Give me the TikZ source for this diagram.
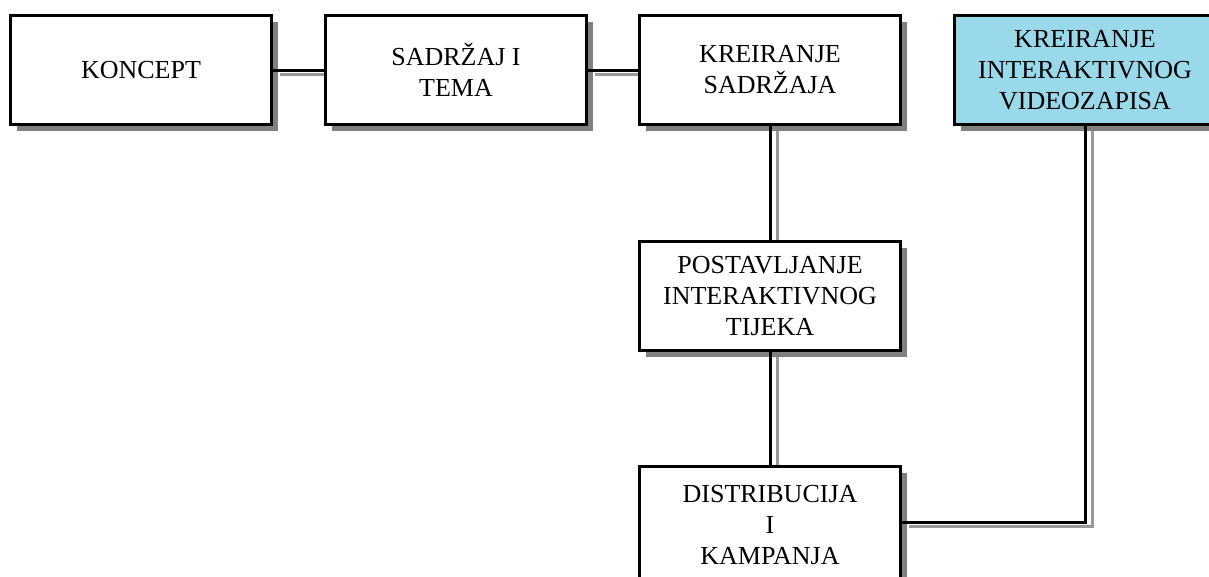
\documentclass[tikz,border=0pt]{standalone}
\usepackage{fontspec}
\setmainfont{Liberation Serif}
\usetikzlibrary{shadows}
\definecolor{vidblue}{HTML}{99D9EA}
\definecolor{shadowgray}{HTML}{808080}
\tikzset{
  box/.style={draw=black, line width=3pt, fill=white, minimum width=261pt, minimum height=109pt,
    align=center, inner sep=0pt, font=\fontsize{26}{31}\selectfont,
    drop shadow={shadow xshift=6pt, shadow yshift=-6pt, fill=shadowgray, opacity=1}},
  conn/.style={draw=black, line width=3pt},
  connshadow/.style={draw=shadowgray!80, line width=3pt, transform canvas={xshift=7pt,yshift=-4pt}}
}
\begin{document}
\begin{tikzpicture}[x=1pt,y=-1pt]
\useasboundingbox (0,0) rectangle (1209,576);
\clip (0,0) rectangle (1209,576);
\fill[white] (0,0) rectangle (1209,576);
\path (141,70) coordinate (pk) (456,70) coordinate (ps) (770,70) coordinate (pc)
      (1085,70) coordinate (pv) (770,296) coordinate (pp) (770,525) coordinate (pd);
\path[connshadow] (273,70) -- (324,70);
\path[connshadow] (588,70) -- (638,70);
\path[connshadow] (770,126) -- (770,240);
\path[connshadow] (770,352) -- (770,466);
\path[connshadow] (1085,126) |- (902,522);
\node[box] (koncept) at (pk) {KONCEPT};
\node[box] (sadrzaj) at (ps) {SADRŽAJ I\\TEMA};
\node[box] (kreiranje) at (pc) {KREIRANJE\\SADRŽAJA};
\node[box, fill=vidblue] (video) at (pv) {KREIRANJE\\INTERAKTIVNOG\\VIDEOZAPISA};
\node[box] (postav) at (pp) {POSTAVLJANJE\\INTERAKTIVNOG\\TIJEKA};
\node[box, minimum height=117pt] (distr) at (pd) {DISTRIBUCIJA\\I\\KAMPANJA};
\coordinate (turn) at (video.south |- 0,522);
\draw[conn] (koncept.east) -- (sadrzaj.west);
\draw[conn] (sadrzaj.east) -- (kreiranje.west);
\draw[conn] (kreiranje.south) -- (postav.north);
\draw[conn] (postav.south) -- (distr.north);
\draw[conn] (video.south) -- (turn) -- (distr.east |- turn);
\end{tikzpicture}
\end{document}
